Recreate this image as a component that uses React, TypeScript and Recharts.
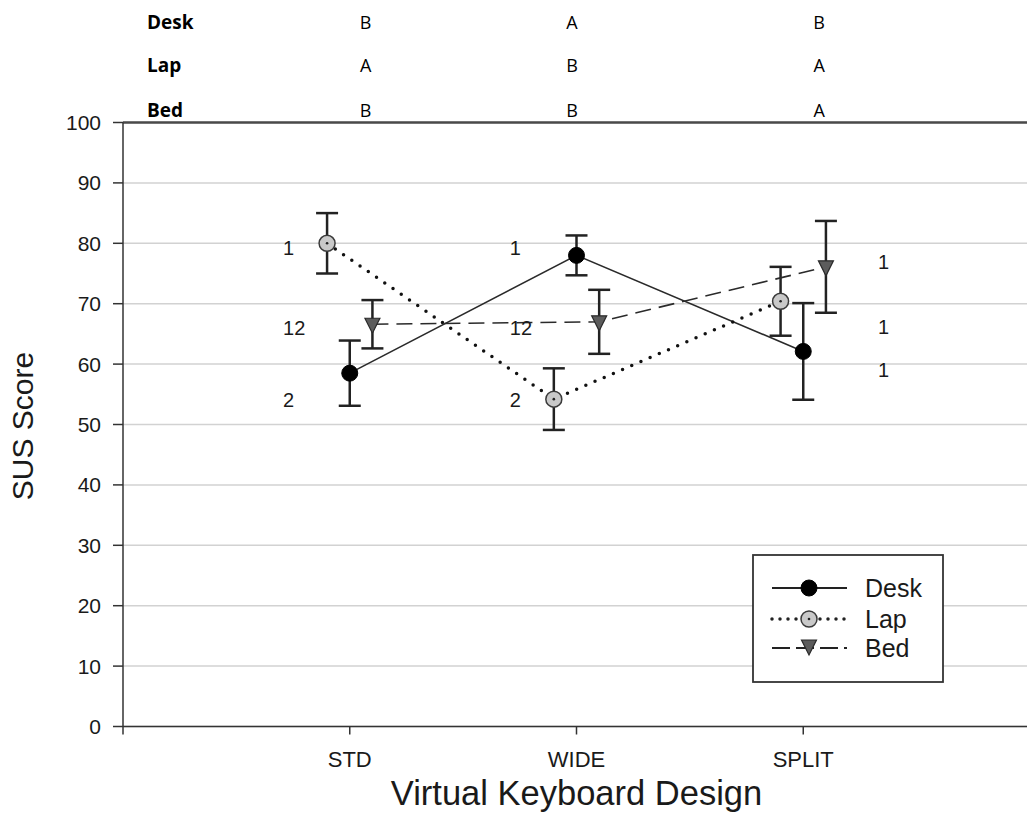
import {
  ComposedChart,
  Line,
  Scatter,
  XAxis,
  YAxis,
  CartesianGrid,
  ErrorBar,
  ReferenceLine,
  Label,
  Customized
} from 'recharts'

const categories = ['STD', 'WIDE', 'SPLIT']

// mean SUS score and error bar half-length for each posture
const deskMean = [58.5, 78.0, 62.1]
const deskErr = [5.4, 3.3, 8.0]
const lapMean = [80.0, 54.2, 70.4]
const lapErr = [5.0, 5.1, 5.7]
const bedMean = [66.6, 67.0, 76.1]
const bedErr = [4.0, 5.3, 7.6]

// post-hoc grouping tags printed beside each design, and the score level they sit at
const deskTags = ['2', '1', '1']
const lapTags = ['1', '2', '1']
const bedTags = ['12', '12', '1']
const deskTagY = [54.1, 79.2, 59.0]
const lapTagY = [79.2, 54.1, 66.1]
const bedTagY = [66.0, 66.0, 76.9]

// letter groups in the table above the plot
const headerRows = ['Desk', 'Lap', 'Bed']
const deskLetters = ['B', 'A', 'B']
const lapLetters = ['A', 'B', 'A']
const bedLetters = ['B', 'B', 'A']

const yTicks = [0, 10, 20, 30, 40, 50, 60, 70, 80, 90, 100]
const xTicks = [0, 1, 2, 3]

const FONT = '"Liberation Sans", Arial, sans-serif'
const INK = '#1a1a1a'

// side-by-side dodge so the three postures don't overlap
const DODGE = { lap: -0.1, desk: 0, bed: 0.1 }

const toSeries = (mean: number[], err: number[], dodge: number) =>
  mean.map((y, i) => ({ x: i + 1 + dodge, y, err: err[i] }))

const deskData = toSeries(deskMean, deskErr, DODGE.desk)
const lapData = toSeries(lapMean, lapErr, DODGE.lap)
const bedData = toSeries(bedMean, bedErr, DODGE.bed)

const tagData = categories.flatMap((_, i) => {
  const x = i + 1 + (i === 2 ? 0.33 : -0.294)
  return [
    { x, y: deskTagY[i], text: deskTags[i] },
    { x, y: lapTagY[i], text: lapTags[i] },
    { x, y: bedTagY[i], text: bedTags[i] }
  ]
})

const W = 1040
const H = 830
const PLOT_LEFT = 123
const PLOT_RIGHT = 1030
const UNIT = (PLOT_RIGHT - PLOT_LEFT) / 4

function DeskDot(props: any) {
  const { cx, cy, index } = props
  return <circle key={`d${index}`} cx={cx} cy={cy} r={8} fill="#000" stroke="#000" />
}

function LapDot(props: any) {
  const { cx, cy, index } = props
  return (
    <g key={`l${index}`}>
      <circle cx={cx} cy={cy} r={8} fill="#c9c9c9" stroke="#3a3a3a" strokeWidth={1.5} />
      <circle cx={cx} cy={cy} r={1.3} fill="#222" />
    </g>
  )
}

function BedDot(props: any) {
  const { cx, cy, index } = props
  return (
    <polygon
      key={`b${index}`}
      points={`${cx - 7.5},${cy - 6} ${cx + 7.5},${cy - 6} ${cx},${cy + 9}`}
      fill="#5c5c5c"
      stroke="#2a2a2a"
      strokeWidth={1.2}
    />
  )
}

function TagText(props: any) {
  const { cx, cy, payload } = props
  return (
    <text x={cx} y={cy} fontFamily={FONT} fontSize={20} fill={INK} dominantBaseline="central">
      {payload.text}
    </text>
  )
}

function HeaderTable() {
  const rows = [deskLetters, lapLetters, bedLetters]
  const rowY = [22, 65, 110]
  const colX = [1.07, 1.98, 3.07].map(v => PLOT_LEFT + v * UNIT)
  return (
    <g fontFamily='"Open Sans", "Noto Sans", sans-serif' fill="#000">
      {headerRows.map((name, r) => (
        <g key={name}>
          <text x={147} y={rowY[r]} fontSize={19} fontWeight={700} dominantBaseline="central">
            {name}
          </text>
          {rows[r].map((letter, c) => (
            <text key={c} x={colX[c]} y={rowY[r]} fontSize={18} textAnchor="middle" dominantBaseline="central">
              {letter}
            </text>
          ))}
        </g>
      ))}
    </g>
  )
}

function LegendBox() {
  const rows = [
    { name: 'Desk', y: 588, dash: undefined, width: 2.2 },
    { name: 'Lap', y: 619, dash: '0 8', width: 3.5 },
    { name: 'Bed', y: 648, dash: '18 6', width: 2 }
  ]
  const x1 = 772
  const x2 = 847
  const mid = 809
  return (
    <g>
      <rect x={753} y={555} width={190} height={127} fill="#fff" stroke="#333" strokeWidth={1.8} />
      {rows.map((r, i) => (
        <g key={r.name}>
          <line
            x1={x1}
            y1={r.y}
            x2={x2}
            y2={r.y}
            stroke="#222"
            strokeWidth={r.width}
            strokeDasharray={r.dash}
            strokeLinecap={i === 1 ? 'round' : 'butt'}
          />
          {i === 0 && <DeskDot cx={mid} cy={r.y} index={0} />}
          {i === 1 && <LapDot cx={mid} cy={r.y} index={0} />}
          {i === 2 && <BedDot cx={mid} cy={r.y - 2} index={0} />}
          <text x={865} y={r.y} fontFamily={FONT} fontSize={25} fill={INK} dominantBaseline="central">
            {r.name}
          </text>
        </g>
      ))}
    </g>
  )
}

export default function App() {
  return (
    <div
      style={{
        position: 'absolute',
        left: 0,
        top: 0,
        width: 1027,
        height: 830,
        overflow: 'hidden',
        background: '#fff'
      }}
    >
      <ComposedChart width={W} height={H} margin={{ top: 122.5, right: W - PLOT_RIGHT, bottom: 0, left: 0 }}>
        <CartesianGrid horizontal vertical={false} stroke="#d2d2d2" strokeWidth={1.5} />
        <XAxis
          type="number"
          dataKey="x"
          domain={[0, 4]}
          ticks={xTicks}
          tickFormatter={v => (v >= 1 ? categories[v - 1] : '')}
          height={103.5}
          tickSize={8}
          tickMargin={17}
          stroke="#333"
          strokeWidth={1.5}
          tick={{ fontFamily: FONT, fontSize: 22, fill: INK }}
        >
          <Label
            content={({ viewBox }: any) => (
              <text
                x={viewBox.x + viewBox.width / 2}
                y={793}
                fontFamily={FONT}
                fontSize={34.5}
                fill={INK}
                textAnchor="middle"
                dominantBaseline="central"
              >
                Virtual Keyboard Design
              </text>
            )}
          />
        </XAxis>
        <YAxis
          type="number"
          domain={[0, 100]}
          ticks={yTicks}
          width={PLOT_LEFT}
          tickSize={10}
          tickMargin={12}
          stroke="#333"
          strokeWidth={1.5}
          tick={{ fontFamily: FONT, fontSize: 21, fill: INK }}
        >
          <Label
            content={() => (
              <text
                x={22}
                y={426}
                transform="rotate(-90 22 426)"
                fontFamily={FONT}
                fontSize={30}
                fill={INK}
                textAnchor="middle"
                dominantBaseline="central"
              >
                SUS Score
              </text>
            )}
          />
        </YAxis>
        <ReferenceLine y={100} stroke="#4a4a4a" strokeWidth={2.5} />

        <Line
          data={deskData}
          dataKey="y"
          stroke="#2a2a2a"
          strokeWidth={1.6}
          dot={DeskDot}
          activeDot={false}
          isAnimationActive={false}
        >
          <ErrorBar dataKey="err" direction="y" width={11} stroke="#222" strokeWidth={2.5} />
        </Line>
        <Line
          data={lapData}
          dataKey="y"
          stroke="#111"
          strokeWidth={3.5}
          strokeDasharray="0 10"
          strokeLinecap="round"
          dot={LapDot}
          activeDot={false}
          isAnimationActive={false}
        >
          <ErrorBar dataKey="err" direction="y" width={11} stroke="#222" strokeWidth={2.5} />
        </Line>
        <Line
          data={bedData}
          dataKey="y"
          stroke="#2a2a2a"
          strokeWidth={1.6}
          strokeDasharray="16 8"
          dot={BedDot}
          activeDot={false}
          isAnimationActive={false}
        >
          <ErrorBar dataKey="err" direction="y" width={11} stroke="#222" strokeWidth={2.5} />
        </Line>

        <Scatter data={tagData} dataKey="y" shape={TagText} isAnimationActive={false} />

        <Customized component={HeaderTable} />
        <Customized component={LegendBox} />
      </ComposedChart>
    </div>
  )
}
